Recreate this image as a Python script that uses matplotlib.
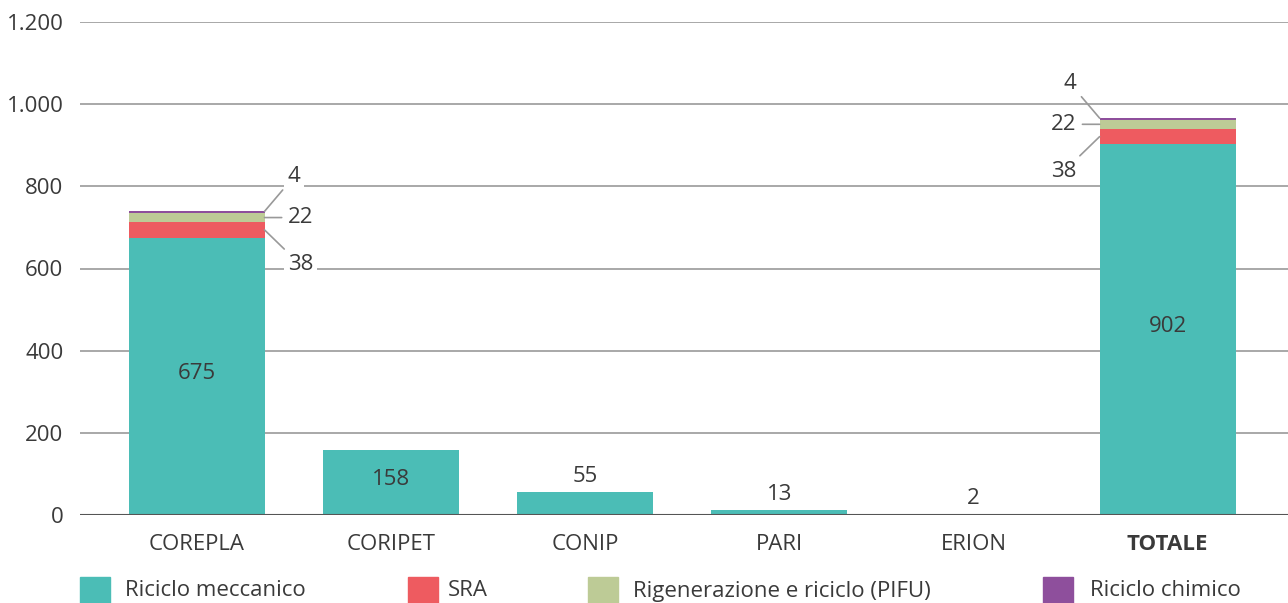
import numpy as np
import matplotlib.pyplot as plt
from matplotlib.patches import Rectangle

plt.rcParams['font.family'] = ['Open Sans', 'DejaVu Sans']

consorzi = ['COREPLA', 'CORIPET', 'CONIP', 'PARI', 'ERION', 'TOTALE']
meccanico = [675, 158, 55, 13, 2, 902]
sra = [38, 0, 0, 0, 0, 38]
pifu = [22, 0, 0, 0, 0, 22]
chimico = [4, 0, 0, 0, 0, 4]

serie_nomi = ['Riciclo meccanico', 'SRA', 'Rigenerazione e riciclo (PIFU)', 'Riciclo chimico']
colori = ['#4bbdb6', '#ee5b60', '#bdcb96', '#8e4f9c']
testo = '#3a3a3a'
fs = 16

W, H = 1288, 603
fig = plt.figure(figsize=(W / 100, H / 100), dpi=100)
ax = fig.add_axes([80 / W, (H - 515) / H, (W - 80) / W, (515 - 22) / H])

x = np.arange(len(consorzi))
width = 0.7
bottom = np.zeros(len(consorzi))
for vals, col, nome in zip([meccanico, sra, pifu, chimico], colori, serie_nomi):
    ax.bar(x, vals, width, bottom=bottom, color=col, label=nome, zorder=3)
    bottom += np.array(vals)

ax.set_xlim(-0.6, 5.62)
ax.set_ylim(0, 1200)
ax.set_yticks(range(0, 1201, 200))
ax.set_yticklabels(['0', '200', '400', '600', '800', '1.000', '1.200'])
ax.grid(axis='y', color='#9a9a9a', linewidth=1.2, zorder=0)
ax.axhline(0, color='#555555', linewidth=1.5, zorder=4)
for s in ax.spines.values():
    s.set_visible(False)
ax.tick_params(axis='both', length=0, labelsize=fs, colors=testo)
ax.tick_params(axis='x', pad=14)
ax.tick_params(axis='y', pad=12)
ax.set_xticks(x)
ax.set_xticklabels(consorzi)
ax.get_xticklabels()[-1].set_fontweight('bold')

# valori del riciclo meccanico
for i, v in enumerate(meccanico):
    if v > 100:
        ax.text(x[i], v / 2 + 8, str(v), ha='center', va='center', fontsize=fs, color=testo, zorder=5)
    else:
        ax.text(x[i], v + 12, str(v), ha='center', va='bottom', fontsize=fs, color=testo, zorder=5)

# etichette delle piccole quote con linee guida
def etichette(i, lato):
    bx = x[i] + lato * width / 2
    base = meccanico[i]
    punti = [base + sra[i] / 2, base + sra[i] + pifu[i] / 2, base + sra[i] + pifu[i] + chimico[i]]
    valori = [sra[i], pifu[i], chimico[i]]
    dy = [-85, 0, 85]
    for p, v, d in zip(punti, valori, dy):
        tx = bx + lato * 0.12
        ty = p + d
        ax.annotate(str(v), xy=(bx, p), xytext=(tx, ty), fontsize=fs, color=testo,
                    ha='left' if lato > 0 else 'right', va='center',
                    arrowprops=dict(arrowstyle='-', color='#999999', lw=1.2,
                                    shrinkA=2, shrinkB=0),
                    bbox=dict(boxstyle='square,pad=0.15', fc='white', ec='none'),
                    zorder=6)

etichette(0, 1)
etichette(5, -1)

# legenda in basso
leg_box = [80, 408, 588, 1043]
leg_txt = [125, 448, 633, 1090]
for bx, tx, col, nome in zip(leg_box, leg_txt, colori, serie_nomi):
    fig.add_artist(Rectangle((bx / W, 1 - 607 / H), 30 / W, 30 / H,
                             transform=fig.transFigure, color=col))
    fig.text(tx / W, 1 - 591 / H, nome, fontsize=fs, color=testo, va='center', ha='left')

fig.savefig('out.png', dpi=100)
